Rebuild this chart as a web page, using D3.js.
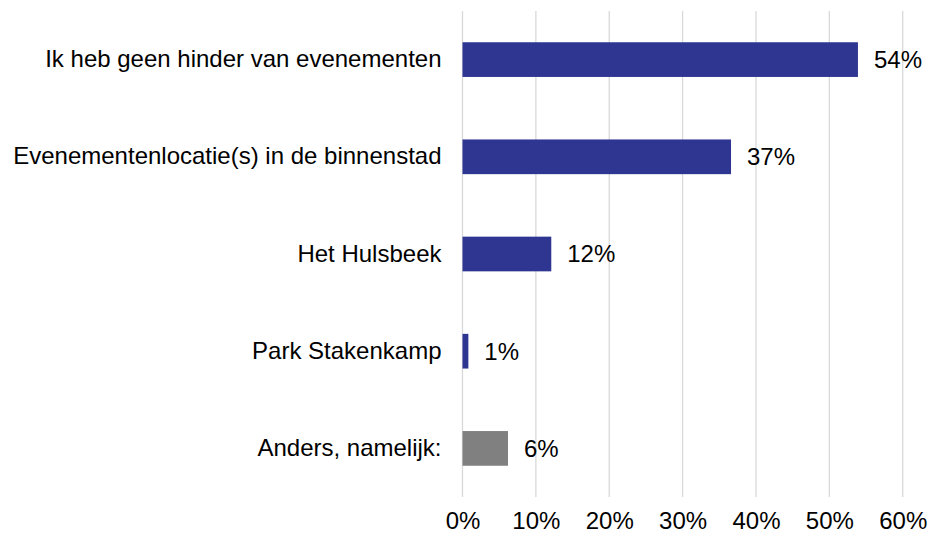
<!DOCTYPE html>
<html>
<head>
<meta charset="utf-8">
<script src="https://cdn.jsdelivr.net/npm/d3@7"></script>
<style>
  body { margin: 0; background: #fff; }
  text { font-family: "Liberation Sans", Arial, sans-serif; fill: #000; }
</style>
</head>
<body>
<script>
// data
const categories = [
  "Ik heb geen hinder van evenementen",
  "Evenementenlocatie(s) in de binnenstad",
  "Het Hulsbeek",
  "Park Stakenkamp",
  "Anders, namelijk:"
];
const values = [0.539, 0.366, 0.121, 0.008, 0.062];
const labels = ["54%", "37%", "12%", "1%", "6%"];
const barColors = ["#2E3691", "#2E3691", "#2E3691", "#2E3691", "#808080"];
const ticks = [0, 0.1, 0.2, 0.3, 0.4, 0.5, 0.6];

var width = 931, height = 535;
var plot = {left: 462.5, right: 902.7, top: 11, bottom: 497};

var svg = d3.select("body").append("svg")
    .attr("width", width)
    .attr("height", height);

var x = d3.scaleLinear()
    .domain([0, 0.6])
    .range([plot.left, plot.right]);

var y = d3.scaleBand()
    .domain(categories)
    .range([plot.top, plot.bottom])
    .paddingInner(0.643)
    .paddingOuter(0.3215);

// gridlines
svg.selectAll(".grid")
    .data(ticks)
    .enter()
    .append("line")
    .attr("class", "grid")
    .attr("x1", function(d) { return x(d); })
    .attr("x2", function(d) { return x(d); })
    .attr("y1", plot.top)
    .attr("y2", plot.bottom)
    .attr("stroke", "#d9d9d9")
    .attr("stroke-width", 1.3);

// bars
svg.selectAll(".bar")
    .data(categories)
    .enter()
    .append("rect")
    .attr("class", "bar")
    .attr("x", x(0))
    .attr("y", function(d) { return y(d); })
    .attr("width", function(d, i) { return x(values[i]) - x(0); })
    .attr("height", y.bandwidth())
    .attr("fill", function(d, i) { return barColors[i]; });

// value labels
svg.selectAll(".val")
    .data(categories)
    .enter()
    .append("text")
    .attr("class", "val")
    .attr("x", function(d, i) { return x(values[i]) + 16; })
    .attr("y", function(d) { return y(d) + y.bandwidth() / 2; })
    .attr("dy", "0.35em")
    .style("font-size", "24px")
    .text(function(d, i) { return labels[i]; });

// category axis
var yAxis = svg.append("g")
    .attr("transform", "translate(" + plot.left + ",0)")
    .call(d3.axisLeft(y).tickSize(0).tickPadding(21));
yAxis.select(".domain").remove();
yAxis.selectAll("text")
    .style("font-size", "24px")
    .style("font-family", "'Liberation Sans', Arial, sans-serif")
    .attr("fill", "#000");

// percent axis (nudged up a little so the labels are not clipped)
var xAxis = svg.append("g")
    .attr("transform", "translate(0," + plot.bottom + ")")
    .call(d3.axisBottom(x).tickValues(ticks).tickFormat(d3.format(".0%")).tickSize(0).tickPadding(15));
xAxis.select(".domain").remove();
xAxis.selectAll("text")
    .style("font-size", "24px")
    .style("font-family", "'Liberation Sans', Arial, sans-serif")
    .attr("fill", "#000");
</script>
</body>
</html>
